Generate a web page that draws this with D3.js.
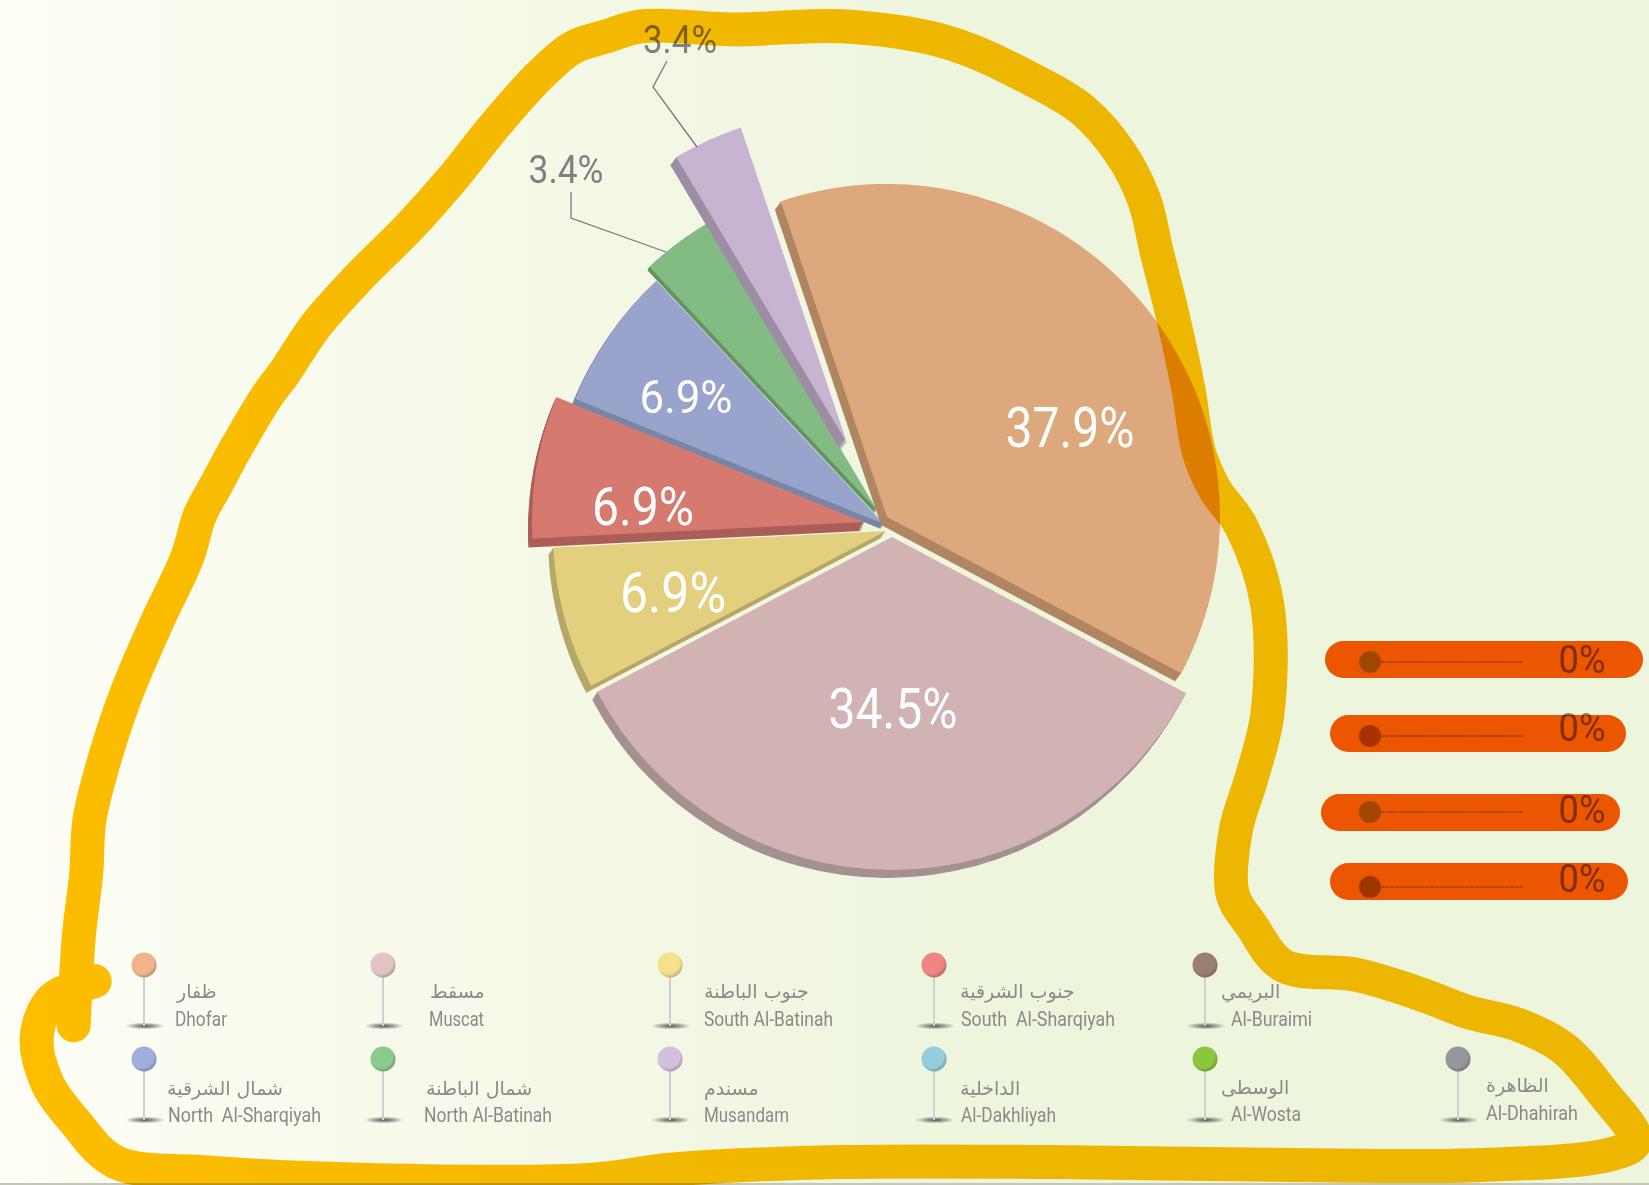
<!DOCTYPE html>
<html>
<head>
<meta charset="utf-8">
<script src="https://cdnjs.cloudflare.com/ajax/libs/d3/7.8.5/d3.min.js"></script>
<style>
html, body { margin: 0; padding: 0; background: #edf5dc; }
svg { display: block; }
text { font-family: "Roboto", sans-serif; }
.ar { font-family: "DejaVu Sans", "Noto Sans", sans-serif; }
</style>
</head>
<body>
<div id="chart"></div>
<script>
// values
var pieRegions = ["Dhofar", "Muscat", "South Al-Batinah", "South Al-Sharqiyah", "North Al-Sharqiyah", "North Al-Batinah", "Musandam"];
var pieValues = [37.9, 34.5, 6.9, 6.9, 6.9, 3.4, 3.4];
var pieColors = ["#dda87c", "#d1b3b3", "#e3d07f", "#d67a70", "#98a4cc", "#82bc82", "#c6b4d0"];
var pieSideColors = ["#af8562", "#a59090", "#b5a765", "#aa5e57", "#7885a5", "#639563", "#9c8da5"];

var zeroValues = [0, 0, 0, 0];
var zeroDotColors = ["#9fcc80", "#a58f80", "#9fcc80", "#9f9680"];

var legendEnglish = ["Dhofar", "Muscat", "South Al-Batinah", "South  Al-Sharqiyah", "Al-Buraimi",
	"North  Al-Sharqiyah", "North Al-Batinah", "Musandam", "Al-Dakhliyah", "Al-Wosta", "Al-Dhahirah"];
var legendArabic = ["ظفار", "مسقط", "جنوب الباطنة", "جنوب الشرقية", "البريمي",
	"شمال الشرقية", "شمال الباطنة", "مسندم", "الداخلية", "الوسطى", "الظاهرة"];
var legendColors = ["#f0b48c", "#e3c3c3", "#f5e08c", "#ee8580", "#9b8070",
	"#a0aedc", "#8acb8e", "#d3c0df", "#94cddd", "#8cc63f", "#96969b"];

// layout of the picture, in pixels
var width = 1649, height = 1185, radius = 333;
var firstAngle = -18.6 * Math.PI / 180;
var sliceCenters = [[887, 517], [892, 537], [886, 531], [865, 522], [884, 524], [877, 510], [847, 443]];
var sliceSides = [[-6, 8], [-5, 8], [-5, 7], [-4, 9], [-3, 5], [-2, 3.5], [-6, 8]];
var sliceOrder = [1, 2, 3, 4, 5, 6, 0];
// centre x, baseline y, font size, drawn width
var sliceLabels = [[1070, 447, 55, 129], [893, 728, 55, 129], [673, 612, 55, 106], [643, 525, 54, 102], [686, 413, 46, 93]];
var outerLabels = [[5, 566, 183, 75], [6, 680, 53, 74]];
var leaderLines = [[[571, 192], [571, 218], [666, 252]], [[667, 61], [653, 87], [697, 147]]];
var pinX = [144, 383, 670, 934, 1205, 144, 383, 670, 934, 1205, 1458];
var pinHead = [965, 965, 965, 965, 965, 1059, 1059, 1059, 1059, 1059, 1059];
var pinFoot = [1026, 1026, 1026, 1026, 1026, 1120, 1120, 1120, 1120, 1120, 1120];
var arabicY = [998, 998, 998, 998, 998, 1095, 1095, 1095, 1095, 1094, 1092];
var englishY = [1026, 1026, 1026, 1026, 1026, 1122, 1122, 1122, 1122, 1121, 1120];
var englishX = [175, 429, 704, 961, 1231, 168, 424, 704, 961, 1231, 1486];
var englishWidth = [52, 55, 129, 154, 81, 153, 128, 85, 95, 70, 92];
var arabicX = [177, 430, 704, 960, 1221, 167, 426, 704, 960, 1221, 1486];
var pillBoxes = [[1325, 1643, 641], [1330, 1626, 715], [1321, 1620, 794], [1330, 1628, 863]];
var dotY = [662, 736, 812, 887];
var zeroTextY = [673, 741, 823, 892];

// hand drawn marker round the pie, traced at the scale of the shrunk picture
var markerTrace = [[70, 975], [75, 890], [82, 830], [85, 780], [100, 720], [120, 660], [150, 590], [178, 530], [190, 490], [205, 462],
	[225, 425], [255, 375], [270, 355], [300, 310], [340, 265], [390, 215], [430, 170], [470, 120], [515, 70], [545, 45], [575, 35], [610, 25],
	[700, 28], [800, 25], [900, 40], [980, 75], [1030, 105], [1065, 145], [1088, 190], [1100, 240], [1115, 300], [1130, 370], [1140, 430],
	[1155, 465], [1180, 500], [1205, 575], [1205, 680], [1190, 740], [1175, 790], [1172, 850], [1190, 880], [1220, 918], [1290, 927],
	[1350, 945], [1395, 962], [1445, 975], [1487, 997], [1525, 1040], [1555, 1085], [1530, 1098], [1400, 1108], [1250, 1108], [1000, 1105],
	[800, 1105], [640, 1112], [560, 1122], [350, 1122], [200, 1115], [110, 1105], [70, 1065], [45, 1030], [35, 985], [50, 950], [90, 933]];
var traceScale = 1649 / 1568;

var svg = d3.select("#chart").append("svg")
	.attr("width", width)
	.attr("height", height);

var defs = svg.append("defs");

// page background
var backGradient = defs.append("linearGradient").attr("id", "back");
backGradient.append("stop").attr("offset", "0").attr("stop-color", "#fefef6");
backGradient.append("stop").attr("offset", "0.3").attr("stop-color", "#f5f9e8");
backGradient.append("stop").attr("offset", "0.62").attr("stop-color", "#edf5dc");
backGradient.append("stop").attr("offset", "1").attr("stop-color", "#edf5dc");

svg.append("rect")
	.attr("width", width)
	.attr("height", height)
	.attr("fill", "url(#back)");

svg.append("rect")
	.attr("y", height - 2)
	.attr("width", width)
	.attr("height", 2)
	.attr("fill", "#c4c6b8");

// shading on the pin heads
var headShade = defs.append("radialGradient")
	.attr("id", "headShade")
	.attr("cx", "0.42").attr("cy", "0.38").attr("r", "0.62");
headShade.append("stop").attr("offset", "0.75").attr("stop-color", "#000").attr("stop-opacity", 0);
headShade.append("stop").attr("offset", "1").attr("stop-color", "#000").attr("stop-opacity", 0.2);

var footShade = defs.append("radialGradient").attr("id", "footShade");
footShade.append("stop").attr("offset", "0").attr("stop-color", "#444").attr("stop-opacity", 0.9);
footShade.append("stop").attr("offset", "1").attr("stop-color", "#444").attr("stop-opacity", 0);

// pie slices
var pie = d3.pie()
	.sort(null)
	.startAngle(firstAngle)
	.endAngle(firstAngle + 2 * Math.PI);

var arc = d3.arc()
	.innerRadius(0)
	.outerRadius(radius);

var slices = pie(pieValues);

// drawn back to front, the side is the same arc stepped down to the left
sliceOrder.forEach(function(i){

	var g = svg.append("g")
		.attr("class", "slice")
		.attr("transform", "translate(" + sliceCenters[i][0] + "," + sliceCenters[i][1] + ")");

	d3.range(1, 11).forEach(function(step){

		g.append("path")
			.attr("d", arc(slices[i]))
			.attr("transform", "translate(" + (sliceSides[i][0] * step / 10) + "," + (sliceSides[i][1] * step / 10) + ")")
			.attr("fill", pieSideColors[i]);
	});

	g.append("path")
		.attr("d", arc(slices[i]))
		.attr("fill", pieColors[i]);
});

// labels on the slices
sliceLabels.forEach(function(d, i){

	svg.append("text")
		.attr("x", d[0])
		.attr("y", d[1])
		.attr("text-anchor", "middle")
		.attr("font-size", d[2])
		.attr("textLength", d[3])
		.attr("lengthAdjust", "spacingAndGlyphs")
		.attr("fill", "#fff")
		.text(pieValues[i] + "%");
});

// labels outside the pie and their leader lines
outerLabels.forEach(function(d){

	svg.append("text")
		.attr("x", d[1])
		.attr("y", d[2])
		.attr("text-anchor", "middle")
		.attr("font-size", 39)
		.attr("textLength", d[3])
		.attr("lengthAdjust", "spacingAndGlyphs")
		.attr("fill", "#808080")
		.text(pieValues[d[0]] + "%");
});

svg.selectAll(".leader")
	.data(leaderLines)
	.enter()
	.append("path")
	.attr("class", "leader")
	.attr("d", d3.line())
	.attr("fill", "none")
	.attr("stroke", "#77797c")
	.attr("stroke-width", 1.3);

// legend pins
var pins = svg.selectAll(".pin")
	.data(legendEnglish)
	.enter()
	.append("g")
	.attr("class", "pin");

pins.append("ellipse")
	.attr("cx", function(d, i){ return pinX[i] + 1; })
	.attr("cy", function(d, i){ return pinFoot[i]; })
	.attr("rx", 20)
	.attr("ry", 3.5)
	.attr("fill", "url(#footShade)");

pins.append("line")
	.attr("x1", function(d, i){ return pinX[i]; })
	.attr("x2", function(d, i){ return pinX[i]; })
	.attr("y1", function(d, i){ return pinHead[i] + 12; })
	.attr("y2", function(d, i){ return pinFoot[i]; })
	.attr("stroke", "#cfd0d6")
	.attr("stroke-width", 2);

pins.append("circle")
	.attr("cx", function(d, i){ return pinX[i]; })
	.attr("cy", function(d, i){ return pinHead[i]; })
	.attr("r", 12.5)
	.attr("fill", function(d, i){ return legendColors[i]; });

pins.append("circle")
	.attr("cx", function(d, i){ return pinX[i]; })
	.attr("cy", function(d, i){ return pinHead[i]; })
	.attr("r", 12.5)
	.attr("fill", "url(#headShade)");

pins.append("text")
	.attr("x", function(d, i){ return englishX[i]; })
	.attr("y", function(d, i){ return englishY[i]; })
	.attr("font-size", 20)
	.attr("textLength", function(d, i){ return englishWidth[i]; })
	.attr("lengthAdjust", "spacingAndGlyphs")
	.attr("fill", "#8a8a8a")
	.style("white-space", "pre")
	.text(function(d){ return d; });

pins.append("text")
	.attr("class", "ar")
	.attr("x", function(d, i){ return arabicX[i]; })
	.attr("y", function(d, i){ return arabicY[i]; })
	.attr("font-size", 19)
	.attr("fill", "#8a8a8a")
	.attr("direction", "rtl")
	.attr("text-anchor", "end")
	.text(function(d, i){ return legendArabic[i]; });

// the four regions at zero, with the orange highlight multiplied over them
var zeroX = d3.scaleLinear().domain([0, 100]).range([1370, 1523]);

zeroValues.forEach(function(d, i){

	svg.append("line")
		.attr("x1", zeroX(d))
		.attr("x2", zeroX(100))
		.attr("y1", dotY[i])
		.attr("y2", dotY[i])
		.attr("stroke", "#555")
		.attr("stroke-width", 1)
		.attr("stroke-dasharray", "1.5,1");

	svg.append("circle")
		.attr("cx", zeroX(d))
		.attr("cy", dotY[i])
		.attr("r", 11)
		.attr("fill", zeroDotColors[i]);

	svg.append("text")
		.attr("x", 1582)
		.attr("y", zeroTextY[i])
		.attr("text-anchor", "middle")
		.attr("font-size", 39)
		.attr("textLength", 47)
		.attr("lengthAdjust", "spacingAndGlyphs")
		.attr("fill", "#808080")
		.text(d + "%");
});

svg.selectAll(".pill")
	.data(pillBoxes)
	.enter()
	.append("rect")
	.attr("class", "pill")
	.attr("x", function(d){ return d[0]; })
	.attr("y", function(d){ return d[2]; })
	.attr("width", function(d){ return d[1] - d[0]; })
	.attr("height", 37)
	.attr("rx", 18.5)
	.attr("fill", "#ff5900")
	.style("mix-blend-mode", "multiply");

// yellow marker on top of everything
svg.append("path")
	.attr("class", "marker")
	.attr("d", d3.line()
		.x(function(d){ return d[0] * traceScale; })
		.y(function(d){ return d[1] * traceScale; })
		.curve(d3.curveCatmullRom)(markerTrace))
	.attr("fill", "none")
	.attr("stroke", "#ffbe00")
	.attr("stroke-width", 34)
	.attr("stroke-linecap", "round")
	.attr("stroke-linejoin", "round")
	.style("mix-blend-mode", "multiply");
</script>
</body>
</html>
